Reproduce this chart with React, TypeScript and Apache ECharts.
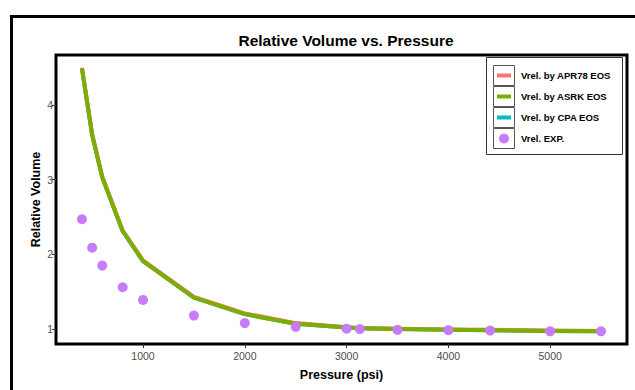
import React, { useEffect, useRef } from "react";
import * as echarts from "echarts";

// Pressure steps (psi) shared by the EOS curves and the lab measurements
const pressure = [400, 500, 600, 800, 1000, 1500, 2000, 2500, 3000, 3130, 3500, 4000, 4410, 5000, 5500];

// Relative volume predicted by each equation of state
const vrelAPR78 = [4.50, 3.61, 3.04, 2.32, 1.92, 1.43, 1.21, 1.08, 1.025, 1.015, 1.005, 0.995, 0.99, 0.98, 0.975];
const vrelASRK = [4.49, 3.60, 3.03, 2.31, 1.91, 1.42, 1.20, 1.07, 1.02, 1.01, 1.00, 0.99, 0.985, 0.975, 0.97];
const vrelCPA = [4.49, 3.60, 3.03, 2.31, 1.91, 1.42, 1.20, 1.07, 1.02, 1.01, 1.00, 0.99, 0.985, 0.975, 0.97];

// Measured relative volume
const vrelEXP = [2.47, 2.09, 1.85, 1.56, 1.39, 1.18, 1.08, 1.03, 1.005, 1.0, 0.99, 0.985, 0.98, 0.97, 0.97];

const xTicks = [1000, 2000, 3000, 4000, 5000];
const yTicks = [1, 2, 3, 4];

const legendNames = ["Vrel. by APR78 EOS", "Vrel. by ASRK EOS", "Vrel. by CPA EOS", "Vrel. EXP."];
const colors = ["#F8766D", "#7CAE00", "#00BFC4", "#C77CFF"];

const FONT = "'Liberation Sans', Arial, sans-serif";

const pairs = (ys: number[]) => pressure.map((p, i) => [p, ys[i]]);

export default function App() {
  const ref = useRef<HTMLDivElement>(null);

  useEffect(() => {
    if (!ref.current) return;
    const chart = echarts.init(ref.current, null, { renderer: "svg" });

    // Hand-built legend box with ggplot-style key cells
    const legendX = 486;
    const legendY = 57;
    const rowH = 21;
    const legendItems: any[] = [
      {
        type: "rect",
        shape: { x: legendX + 0.5, y: legendY + 0.5, width: 136, height: 97 },
        style: { fill: "#fff", stroke: "#333", lineWidth: 1 },
        z: 10,
      },
    ];
    legendNames.forEach((name, i) => {
      const ky = legendY + 8 + i * rowH;
      legendItems.push({
        type: "rect",
        shape: { x: legendX + 7.5, y: ky + 0.5, width: 21, height: 20 },
        style: { fill: "#fff", stroke: "#555", lineWidth: 1 },
        z: 11,
      });
      if (i < 3) {
        legendItems.push({
          type: "line",
          shape: { x1: legendX + 11, y1: ky + 10.5, x2: legendX + 25, y2: ky + 10.5 },
          style: { stroke: colors[i], lineWidth: 4 },
          z: 12,
        });
      } else {
        legendItems.push({
          type: "circle",
          shape: { cx: legendX + 18, cy: ky + 10.5, r: 5 },
          style: { fill: colors[i] },
          z: 12,
        });
      }
      legendItems.push({
        type: "text",
        x: legendX + 35,
        y: ky + 10.5,
        style: {
          text: name,
          fill: "#000",
          font: `bold 9.5px ${FONT}`,
          textVerticalAlign: "middle",
          textAlign: "left",
        },
        z: 12,
      });
    });

    const lineSeries = (name: string, data: number[], color: string) => ({
      name,
      type: "line",
      data: pairs(data),
      showSymbol: false,
      symbol: "none",
      lineStyle: { color, width: 4, join: "round" },
      itemStyle: { color },
    });

    chart.setOption({
      animation: false,
      backgroundColor: "#fff",
      title: {
        text: "Relative Volume vs. Pressure",
        left: 341,
        top: 27,
        textAlign: "center",
        textStyle: { fontFamily: FONT, fontWeight: "bold", fontSize: 15.5, color: "#000" },
      },
      grid: {
        left: 56,
        top: 55,
        right: 8,
        bottom: 46,
        show: true,
        borderColor: "#000",
        borderWidth: 3,
        backgroundColor: "#fff",
      },
      xAxis: {
        type: "value",
        min: 145,
        max: 5755,
        name: "Pressure (psi)",
        nameLocation: "middle",
        nameGap: 24,
        nameMoveOverlap: false,
        nameTextStyle: { fontFamily: FONT, fontWeight: "bold", fontSize: 12.5, color: "#000" },
        axisLine: { show: false },
        splitLine: { show: false },
        axisTick: {
          show: true,
          customValues: xTicks,
          length: 4,
          lineStyle: { color: "#333", width: 1 },
        },
        axisLabel: {
          customValues: xTicks,
          formatter: (v: number) => String(v),
          color: "#4D4D4D",
          fontFamily: FONT,
          fontSize: 10.5,
          margin: 6,
        },
      },
      yAxis: {
        type: "value",
        min: 0.8,
        max: 4.67,
        name: "Relative Volume",
        nameLocation: "middle",
        nameGap: 14,
        nameMoveOverlap: false,
        nameRotate: 90,
        nameTextStyle: { fontFamily: FONT, fontWeight: "bold", fontSize: 12.5, color: "#000" },
        axisLine: { show: false },
        splitLine: { show: false },
        axisTick: {
          show: true,
          customValues: yTicks,
          length: 4,
          lineStyle: { color: "#333", width: 1 },
        },
        axisLabel: {
          customValues: yTicks,
          formatter: (v: number) => String(v),
          color: "#4D4D4D",
          fontFamily: FONT,
          fontSize: 10.5,
          margin: 3,
        },
      },
      graphic: [
        {
          type: "rect",
          shape: { x: 11.5, y: 16.5, width: 700, height: 500 },
          style: { fill: "none", stroke: "#000", lineWidth: 3 },
          z: 20,
          silent: true,
        },
        ...legendItems,
      ],
      series: [
        lineSeries(legendNames[2], vrelCPA, colors[2]),
        lineSeries(legendNames[0], vrelAPR78, colors[0]),
        lineSeries(legendNames[1], vrelASRK, colors[1]),
        {
          name: legendNames[3],
          type: "scatter",
          data: pairs(vrelEXP),
          symbol: "circle",
          symbolSize: 10,
          itemStyle: { color: colors[3], opacity: 1 },
          z: 5,
        },
      ],
    });

    return () => chart.dispose();
  }, []);

  return (
    <div
      ref={ref}
      style={{ position: "absolute", left: 0, top: 0, width: 635, height: 390 }}
    />
  );
}
